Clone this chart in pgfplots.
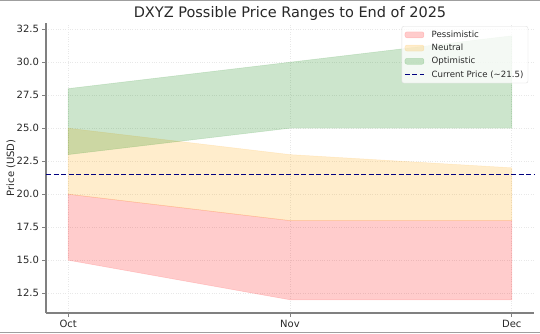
\documentclass[border=0pt]{standalone}
\usepackage{fontspec}
\setmainfont{DejaVu Sans}
\usepackage{pgfplots}
\pgfplotsset{compat=1.18}
\definecolor{navyc}{RGB}{0,0,128}
\definecolor{spine}{RGB}{128,128,128}
\definecolor{mplgreen}{RGB}{0,128,0}
\definecolor{mplorange}{RGB}{255,165,0}
\definecolor{mplred}{RGB}{255,0,0}
\definecolor{txt}{RGB}{40,40,40}
\pgfplotsset{
  arealeg/.style={legend image code/.code={\draw[##1] (0pt,-3pt) rectangle (19pt,3pt); \path (24pt,0pt);}},
  lineleg/.style={legend image code/.code={\draw[##1] (0pt,0pt) -- (19pt,0pt); \path (24pt,0pt);}},
}
\begin{document}
\begin{tikzpicture}[x=1pt,y=1pt]
\useasboundingbox (0,0) rectangle (540,333);
\fill[white] (0,0) rectangle (540,333);
\begin{axis}[at={(46pt,20pt)}, anchor=south west, width=488pt, height=290.4pt, scale only axis,
  xmin=-0.1, xmax=2.1, ymin=11, ymax=33,
  axis x line*=bottom, axis y line*=left,
  axis line style={spine, line width=1.2pt},
  xtick={0,1,2}, xticklabels={Oct,Nov,Dec},
  ytick={12.5,15,17.5,20,22.5,25,27.5,30,32.5},
  yticklabel style={/pgf/number format/.cd, fixed, fixed zerofill, precision=1},
  /pgf/number format/assume math mode=true,
  ticklabel style={font=\fontsize{10}{12}\selectfont, text=txt},
  tick align=outside, major tick length=3.5pt,
  tick style={spine, line width=0.7pt},
  grid=major, major grid style={gray!18, dotted, line width=0.7pt},
  ylabel={Price (USD)},
  ylabel style={font=\fontsize{10}{12}\selectfont, text=txt, at={(axis description cs:-0.0717,0.5)}, anchor=center},
  legend style={at={(0.988,0.988)}, anchor=north east, draw=gray!25, rounded corners=2pt,
    fill=white, fill opacity=0.8, text opacity=1, font=\fontsize{8.6}{10.5}\selectfont,
    row sep=1.2pt, inner sep=2.5pt, cells={anchor=west}, text=txt},
  clip=false,
]
\addplot[arealeg, fill=mplred, fill opacity=0.2, draw=mplred, draw opacity=0.15, line width=0.5pt]
  coordinates {(0,15) (1,12) (2,12) (2,18) (1,18) (0,20)} -- cycle;
\addlegendentry{Pessimistic}
\addplot[arealeg, fill=mplorange, fill opacity=0.2, draw=mplorange, draw opacity=0.15, line width=0.5pt]
  coordinates {(0,20) (1,18) (2,18) (2,22) (1,23) (0,25)} -- cycle;
\addlegendentry{Neutral}
\addplot[arealeg, fill=mplgreen, fill opacity=0.2, draw=mplgreen, draw opacity=0.15, line width=0.5pt]
  coordinates {(0,23) (1,25) (2,25) (2,32) (1,30) (0,28)} -- cycle;
\addlegendentry{Optimistic}
\addplot[lineleg, navyc, line width=1.3pt, dash pattern=on 5pt off 2.5pt]
  coordinates {(-0.1,21.5) (2.1,21.5)};
\addlegendentry{Current Price (\textasciitilde 21.5)}
\end{axis}
\node[anchor=base, font=\fontsize{14.5}{17}\selectfont, text=txt] at (290,315.7) {DXYZ Possible Price Ranges to End of 2025};
\draw[gray!75, line width=1.5pt] (0,332.3) -- (540,332.3);
\draw[gray!75, line width=1.5pt] (0,0.7) -- (540,0.7);
\end{tikzpicture}
\end{document}
